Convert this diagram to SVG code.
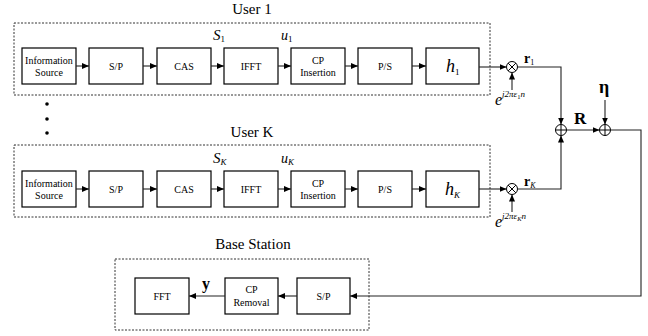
<svg xmlns="http://www.w3.org/2000/svg" width="648" height="336" viewBox="0 0 648 336" font-family="'Liberation Serif', 'Times New Roman', Times, serif">
<defs>
<marker id="ah" markerWidth="8" markerHeight="6" refX="7" refY="3" orient="auto" markerUnits="userSpaceOnUse">
<path d="M0,0 L7,3 L0,6 Z" fill="#000"/>
</marker>
<style>
text{font-family:'Liberation Serif','Times New Roman',Times,serif}
.blk{fill:#fff;stroke:#000;stroke-width:1.2}
.grp{fill:none;stroke:#333;stroke-width:1;stroke-dasharray:2,1.5}
.con{fill:none;stroke:#222;stroke-width:1.1}
.lbl{font-size:10px;fill:#000;text-anchor:middle}
.sm{font-size:10px;fill:#000;text-anchor:middle}
.ttl{font-size:15px;fill:#000;text-anchor:middle}
.it{font-style:italic;fill:#000}
.bd{font-weight:bold;fill:#000}
.op{fill:#fff;stroke:#000;stroke-width:1}
.up{font-style:normal}
</style>
</defs>

<g id="user1">
<text class="ttl" x="252" y="14">User 1</text>
<rect class="grp" x="14" y="23" width="476" height="72"/>
<text class="it" x="213" y="40" font-size="15">S<tspan class="up" font-size="9" dy="2">1</tspan></text>
<text class="it" x="281" y="40" font-size="14">u<tspan class="up" font-size="9" dy="2">1</tspan></text>
</g>
<g id="userK">
<text class="ttl" x="252" y="137">User K</text>
<rect class="grp" x="14" y="145" width="476" height="72"/>
<text class="it" x="213" y="163" font-size="15">S<tspan font-size="9" dy="2">K</tspan></text>
<text class="it" x="281" y="163" font-size="14">u<tspan font-size="9" dy="2">K</tspan></text>
</g>
<g id="basestation">
<text class="ttl" x="253" y="249">Base Station</text>
<rect class="grp" x="115" y="259" width="254" height="71"/>
</g>

<g id="dots">
<circle cx="47" cy="104" r="1.8" fill="#000"/>
<circle cx="47" cy="119" r="1.8" fill="#000"/>
<circle cx="47" cy="133" r="1.8" fill="#000"/>
</g>

<g id="u1_info"><rect class="blk" x="22" y="48" width="54" height="36"/><text class="sm" x="49" y="64">Information</text><text class="sm" x="49" y="76">Source</text></g>
<g id="u1_sp"><rect class="blk" x="89" y="48" width="54" height="36"/><text class="lbl" x="116" y="70">S/P</text></g>
<g id="u1_cas"><rect class="blk" x="157" y="48" width="54" height="36"/><text class="lbl" x="184" y="70">CAS</text></g>
<g id="u1_ifft"><rect class="blk" x="224" y="48" width="54" height="36"/><text class="lbl" x="251" y="70">IFFT</text></g>
<g id="u1_cp"><rect class="blk" x="291" y="48" width="54" height="36"/><text class="sm" x="318" y="64">CP</text><text class="sm" x="318" y="76">Insertion</text></g>
<g id="u1_ps"><rect class="blk" x="358" y="48" width="54" height="36"/><text class="lbl" x="385" y="70">P/S</text></g>
<g id="u1_h"><rect class="blk" x="426" y="48" width="53" height="36"/><text class="it" x="446" y="72" font-size="18">h<tspan class="up" font-size="9" dy="3">1</tspan></text></g>
<g id="u1_mult"><circle class="op" cx="512" cy="67" r="5.5"/><path d="M508.1,63.1 L515.9,70.9 M515.9,63.1 L508.1,70.9" stroke="#000" stroke-width="1"/></g>

<g id="uK_info"><rect class="blk" x="22" y="171" width="54" height="36"/><text class="sm" x="49" y="187">Information</text><text class="sm" x="49" y="199">Source</text></g>
<g id="uK_sp"><rect class="blk" x="89" y="171" width="54" height="36"/><text class="lbl" x="116" y="193">S/P</text></g>
<g id="uK_cas"><rect class="blk" x="157" y="171" width="54" height="36"/><text class="lbl" x="184" y="193">CAS</text></g>
<g id="uK_ifft"><rect class="blk" x="224" y="171" width="54" height="36"/><text class="lbl" x="251" y="193">IFFT</text></g>
<g id="uK_cp"><rect class="blk" x="291" y="171" width="54" height="36"/><text class="sm" x="318" y="187">CP</text><text class="sm" x="318" y="199">Insertion</text></g>
<g id="uK_ps"><rect class="blk" x="358" y="171" width="54" height="36"/><text class="lbl" x="385" y="193">P/S</text></g>
<g id="uK_h"><rect class="blk" x="426" y="171" width="53" height="36"/><text class="it" x="445" y="195" font-size="18">h<tspan font-size="9" dy="3">K</tspan></text></g>
<g id="uK_mult"><circle class="op" cx="512" cy="189" r="5.5"/><path d="M508.1,185.1 L515.9,192.9 M515.9,185.1 L508.1,192.9" stroke="#000" stroke-width="1"/></g>

<g id="adder1"><circle class="op" cx="561" cy="130" r="5.5"/><path d="M555.5,130 L566.5,130 M561,124.5 L561,135.5" stroke="#000" stroke-width="1"/></g>
<g id="adder2"><circle class="op" cx="605" cy="130" r="5.5"/><path d="M599.5,130 L610.5,130 M605,124.5 L605,135.5" stroke="#000" stroke-width="1"/></g>

<g id="bs_fft"><rect class="blk" x="135" y="278" width="54" height="36"/><text class="lbl" x="162" y="300">FFT</text></g>
<g id="bs_cp"><rect class="blk" x="225" y="278" width="53" height="36"/><text class="sm" x="251.5" y="293">CP</text><text class="sm" x="251.5" y="306">Removal</text></g>
<g id="bs_sp"><rect class="blk" x="297" y="278" width="53" height="36"/><text class="lbl" x="323.5" y="300">S/P</text></g>

<g id="labels">
<text class="it" x="495" y="105" font-size="16">e<tspan font-size="9" dy="-8">j2πε</tspan><tspan class="up" font-size="6.5" dy="2">1</tspan><tspan font-size="9" dy="-2">n</tspan></text>
<text class="it" x="495" y="227" font-size="16">e<tspan font-size="9" dy="-8">j2πε</tspan><tspan font-size="6.5" dy="2">K</tspan><tspan font-size="9" dy="-2">n</tspan></text>
<text class="bd" x="524" y="63" font-size="14">r<tspan font-size="8" dy="2" font-weight="normal">1</tspan></text>
<text class="bd" x="524" y="186" font-size="14">r<tspan class="it" font-size="8" dy="2" font-weight="normal">K</tspan></text>
<text class="bd" x="574" y="124" font-size="17">R</text>
<text class="bd" x="599" y="93" font-size="18">η</text>
<text class="bd" x="202" y="289" font-size="16">y</text>
</g>

<g id="connectors" class="con" marker-end="url(#ah)">
<path d="M76,66 L89,66"/>
<path d="M143,66 L157,66"/>
<path d="M211,66 L224,66"/>
<path d="M278,66 L291,66"/>
<path d="M345,66 L358,66"/>
<path d="M412,66 L426,66"/>
<path d="M479,67 L506.5,67"/>
<path d="M512,90 L512,72.5"/>
<path d="M76,189 L89,189"/>
<path d="M143,189 L157,189"/>
<path d="M211,189 L224,189"/>
<path d="M278,189 L291,189"/>
<path d="M345,189 L358,189"/>
<path d="M412,189 L426,189"/>
<path d="M479,189 L506.5,189"/>
<path d="M512,212 L512,194.5"/>
<path d="M517.5,67 L561,67 L561,124.5"/>
<path d="M517.5,189 L561,189 L561,135.5"/>
<path d="M566.5,130 L599.5,130"/>
<path d="M605,100 L605,124.5"/>
<path d="M610.5,130 L641,130 L641,296 L350,296"/>
<path d="M297,296 L278,296"/>
<path d="M225,296 L189,296"/>
</g>
</svg>
